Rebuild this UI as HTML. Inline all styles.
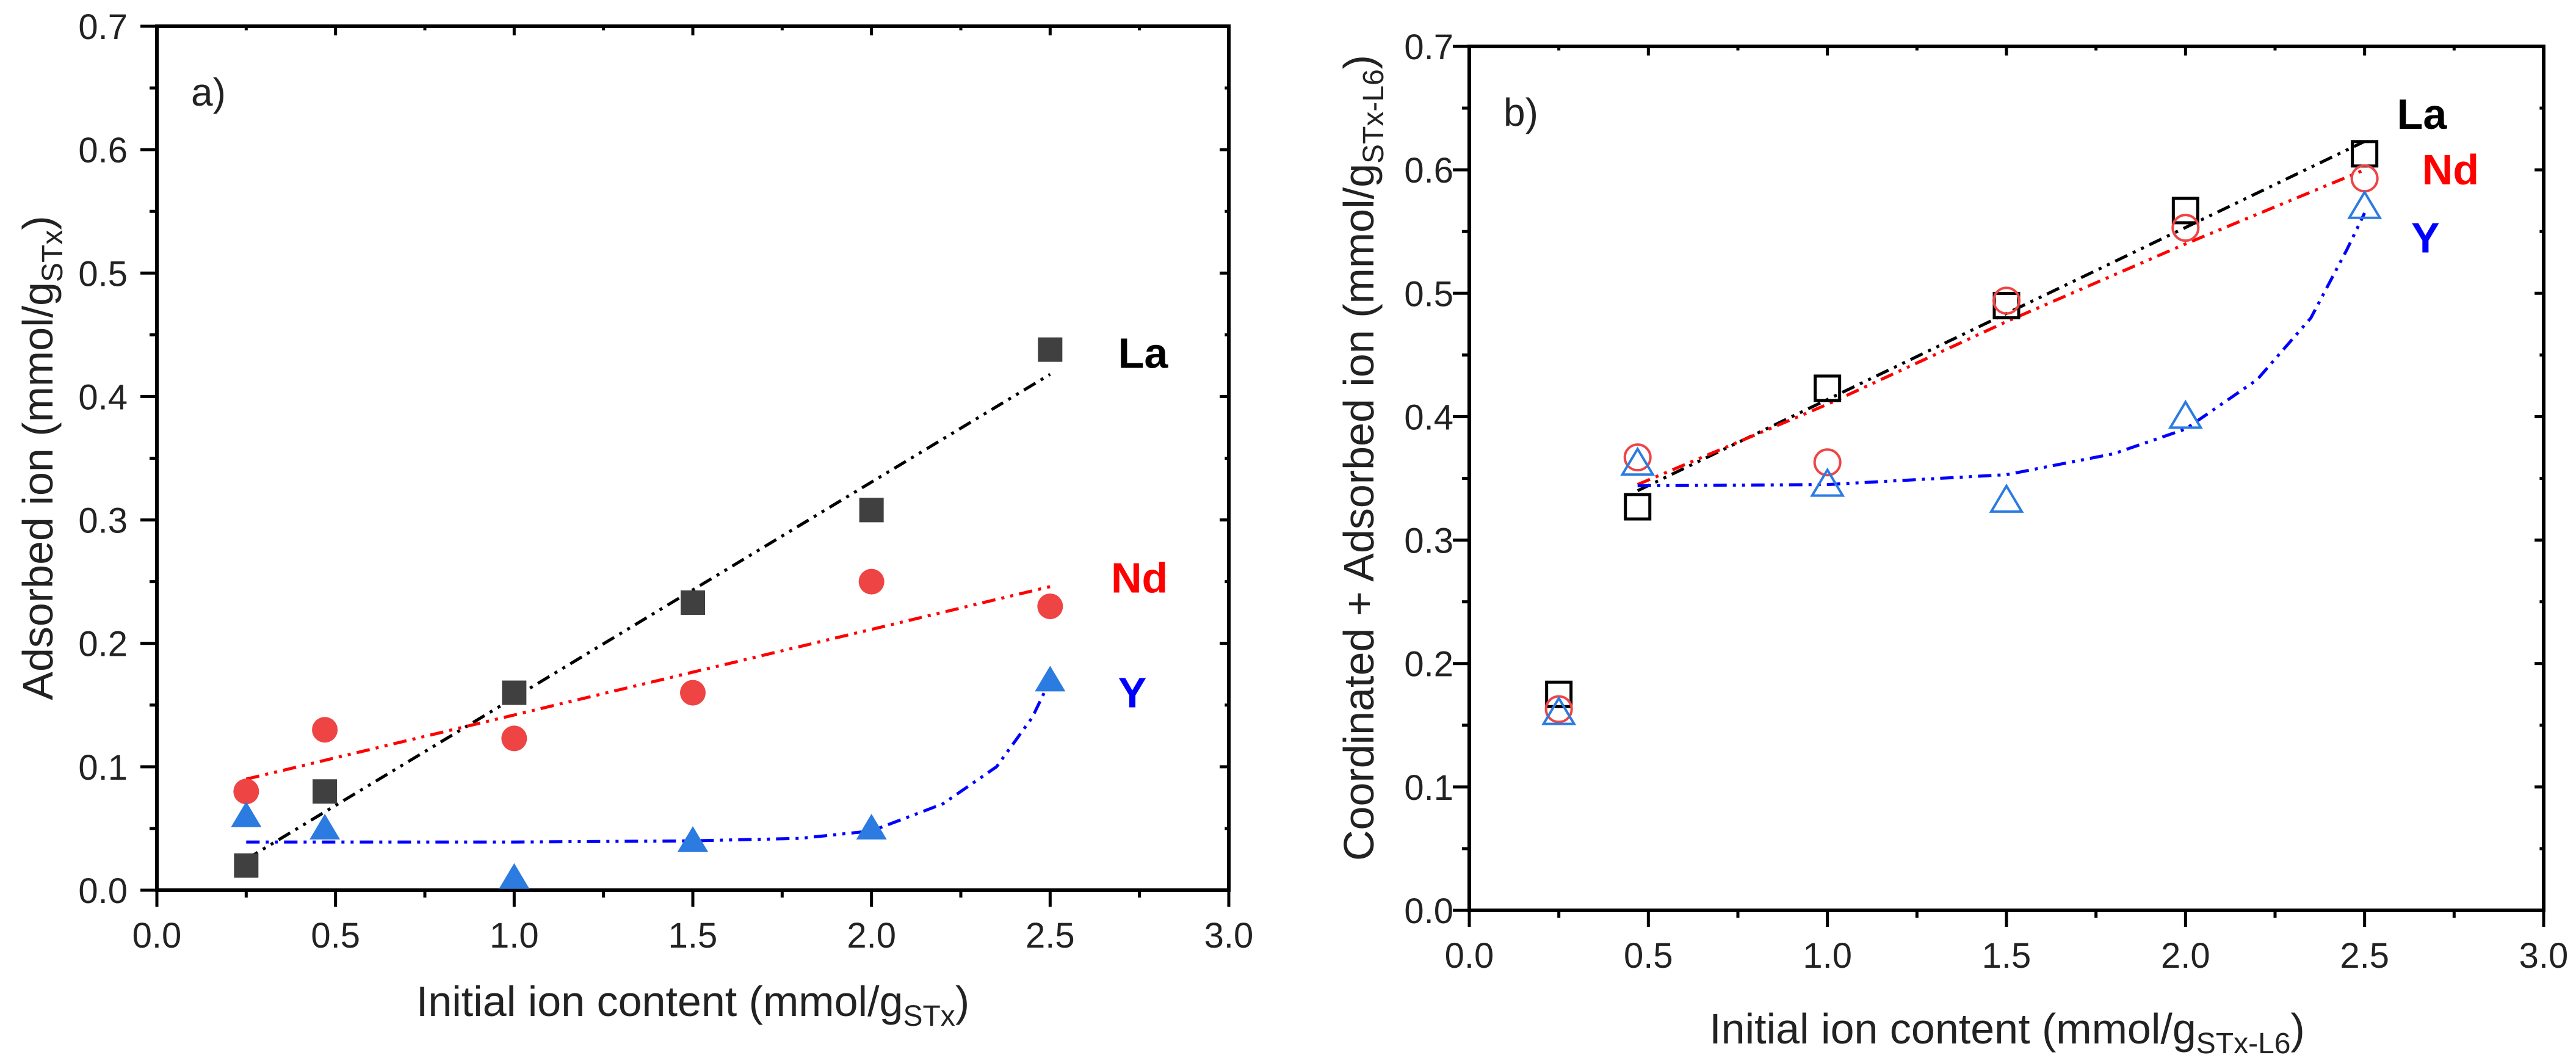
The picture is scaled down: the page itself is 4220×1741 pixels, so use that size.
<!DOCTYPE html>
<html><head><meta charset="utf-8">
<style>
html,body{margin:0;padding:0;background:#fff;}
svg{display:block;font-family:"Liberation Sans",Arial,sans-serif;}
</style></head>
<body>
<svg id="fig" width="4220" height="1741" viewBox="0 0 4220 1741" xmlns="http://www.w3.org/2000/svg"></svg>
<script>
const xTicks = [0.0,0.5,1.0,1.5,2.0,2.5,3.0];
const yTicks = [0.0,0.1,0.2,0.3,0.4,0.5,0.6,0.7];
const xs = [0.25,0.47,1.0,1.5,2.0,2.5];
// panel a
const aLa = [0.02,0.08,0.16,0.233,0.308,0.438];
const aNd = [0.08,0.13,0.123,0.16,0.25,0.23];
const aY  = [0.06,0.05,0.01,0.04,0.05,0.17];
const aLaFitX = [0.25,2.5];
const aLaFitY = [0.025,0.418];
const aNdFitX = [0.25,2.5];
const aNdFitY = [0.09,0.246];
const aYFitX = [0.25,1.0,1.5,1.8,2.0,2.2,2.35,2.45,2.5];
const aYFitY = [0.039,0.039,0.04,0.042,0.048,0.07,0.1,0.14,0.17];
// panel b
const bLa = [0.175,0.327,0.423,0.49,0.567,0.613];
const bNd = [0.163,0.367,0.363,0.494,0.553,0.593];
const bY  = [0.16,0.362,0.345,0.332,0.40,0.57];
const bLaFitX = [0.47,2.5];
const bLaFitY = [0.34,0.623];
const bNdFitX = [0.47,1.0,1.5,2.0,2.5];
const bNdFitY = [0.345,0.41,0.477,0.54,0.60];
const bYFitX = [0.47,1.0,1.5,1.8,2.0,2.2,2.35,2.45,2.5];
const bYFitY = [0.344,0.345,0.353,0.37,0.39,0.43,0.48,0.535,0.565];

const NS="http://www.w3.org/2000/svg";
const svg=document.getElementById('fig');
function mk(tag,attrs,parent){const e=document.createElementNS(NS,tag);for(const k in attrs)e.setAttribute(k,attrs[k]);(parent||svg).appendChild(e);return e;}

const C={La:'#404040',Nd:'#ef4444',Y:'#2b7be0'};
const LC={La:'#000',Nd:'#ff0000',Y:'#0000ff'};

function panel(P){
  const g=mk('g',{});
  
  
  const X=v=>P.x0+(P.x1-P.x0)*v/3;
  const Y=v=>P.y0-(P.y0-P.y1)*v/0.7;
  const fr=mk('rect',{x:P.x0,y:P.y1,width:P.x1-P.x0,height:P.y0-P.y1,fill:'none',stroke:'#000','stroke-width':6},g);
  
  
  for(let i=0;i<=12;i++){
    const v=i*0.25, major=(i%2===0), L=major?27:12, px=X(v);
    const t=mk('line',{x1:px,y1:P.y0,x2:px,y2:P.y0+L,stroke:'#000','stroke-width':5},g);
    
    
    mk('line',{x1:px,y1:P.y1,x2:px,y2:P.y1+L*0.55,stroke:'#000','stroke-width':5},g);
  }
  xTicks.forEach(v=>{
    const t=mk('text',{x:X(v),y:P.y0+94,'font-size':58,'text-anchor':'middle',fill:'#222'},g);
    t.textContent=v.toFixed(1);
    
    
  });
  for(let i=0;i<=14;i++){
    const v=i*0.05, major=(i%2===0), L=major?27:12, py=Y(v);
    const t=mk('line',{x1:P.x0,y1:py,x2:P.x0-L,y2:py,stroke:'#000','stroke-width':5},g);
    
    
    mk('line',{x1:P.x1,y1:py,x2:P.x1-L*0.55,y2:py,stroke:'#000','stroke-width':5},g);
  }
  yTicks.forEach(v=>{
    const t=mk('text',{x:P.x0-P.ygap,y:Y(v)+21,'font-size':58,'text-anchor':'end',fill:'#222'},g);
    t.textContent=v.toFixed(1);
    
    
  });
  const xt=mk('text',{x:P.xtx,y:P.xty,'font-size':70,'text-anchor':'middle',fill:'#222'},g);
  
  
  xt.innerHTML='Initial ion content (mmol/g<tspan font-size="48" dy="16">'+P.sub+'</tspan><tspan dy="-16">)</tspan>';
  const yt=mk('text',{x:0,y:0,'font-size':P.ytsize,'text-anchor':'middle',fill:'#222',transform:`translate(${P.ytx},${P.ytc}) rotate(-90)`},g);
  
  
  yt.innerHTML=P.ytitle+' (mmol/g<tspan font-size="48" dy="16">'+P.sub+'</tspan><tspan dy="-16">)</tspan>';
  const pl=mk('text',{x:P.x0+56,y:P.y1+130,'font-size':64,fill:'#222'},g);
  pl.textContent=P.label;
  
  
  P.fits.forEach(f=>{
    const d=f.fx.map((v,i)=>(i?'L':'M')+X(v)+','+Y(f.fy[i])).join(' ');
    const p=mk('path',{d:d,fill:'none',stroke:LC[f.s],'stroke-width':5,'stroke-dasharray':'22 10 5 10 5 10'},g);
    
    
  });
  P.series.forEach(s=>{
    s.vals.forEach((v,i)=>{
      const cx=X(xs[i]), cy=Y(v);
      let m;
      const fill=P.open?'none':C[s.s], stroke=P.open?(s.s==='La'?'#000':C[s.s]):'none';
      if(s.s==='La') m=mk('rect',{x:cx-20,y:cy-20,width:40,height:40,fill:fill,stroke:stroke,'stroke-width':5},g);
      else if(s.s==='Nd') m=mk('circle',{cx:cx,cy:cy,r:21,fill:fill,stroke:stroke,'stroke-width':4},g);
      else m=mk('polygon',{points:`${cx},${cy-24} ${cx+25},${cy+18} ${cx-25},${cy+18}`,fill:fill,stroke:stroke,'stroke-width':4},g);
      
      
    });
  });
  P.labels.forEach(l=>{
    const t=mk('text',{x:X(l.x),y:Y(l.y)+24,'font-size':70,'font-weight':'bold','text-anchor':'middle',fill:LC[l.s]},g);
    t.textContent=l.s;
    
    
  });
}

panel({name:'panel-a',x0:257,x1:2013,y0:1458,y1:43,label:'a)',sub:'STx',open:false,ygap:48,
  ytitle:'Adsorbed ion',xtx:1135,xty:1664,ytx:86,ytc:750,ytsize:70,
  fits:[{s:'La',fx:aLaFitX,fy:aLaFitY},{s:'Nd',fx:aNdFitX,fy:aNdFitY},{s:'Y',fx:aYFitX,fy:aYFitY}],
  series:[{s:'La',vals:aLa},{s:'Nd',vals:aNd},{s:'Y',vals:aY}],
  labels:[{s:'La',x:2.76,y:0.435},{s:'Nd',x:2.75,y:0.253},{s:'Y',x:2.73,y:0.16}]});
panel({name:'panel-b',x0:2407,x1:4167,y0:1491,y1:76,label:'b)',sub:'STx-L6',open:true,ygap:26,
  ytitle:'Coordinated + Adsorbed ion',xtx:3288,xty:1709,ytx:2250,ytc:750,ytsize:70,
  fits:[{s:'La',fx:bLaFitX,fy:bLaFitY},{s:'Nd',fx:bNdFitX,fy:bNdFitY},{s:'Y',fx:bYFitX,fy:bYFitY}],
  series:[{s:'La',vals:bLa},{s:'Nd',vals:bNd},{s:'Y',vals:bY}],
  labels:[{s:'La',x:2.66,y:0.645},{s:'Nd',x:2.74,y:0.600},{s:'Y',x:2.67,y:0.545}]});
</script>
</body></html>
